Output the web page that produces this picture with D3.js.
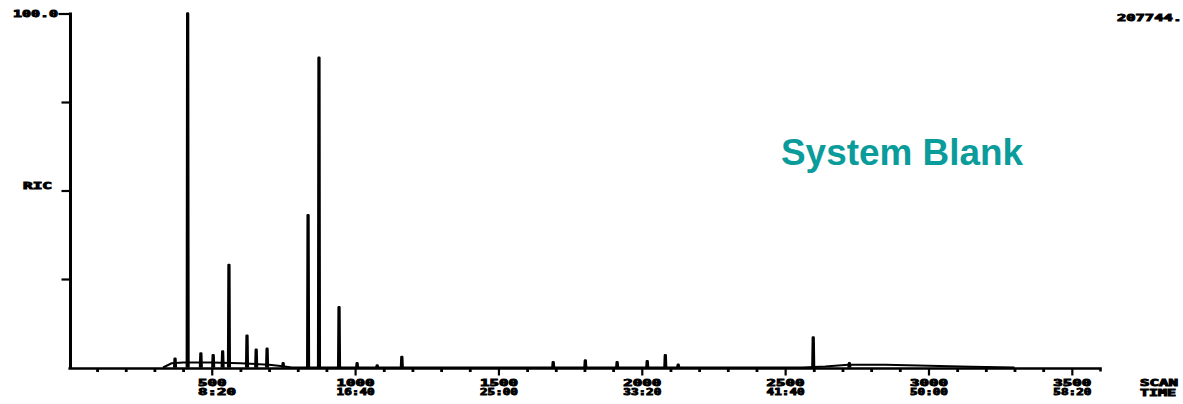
<!DOCTYPE html>
<html>
<head>
<meta charset="utf-8">
<script src="https://cdn.jsdelivr.net/npm/d3@7"></script>
<style>
  html, body { margin: 0; padding: 0; background: #fff; }
  .mono { font-family: 'DejaVu Sans Mono', monospace; font-weight: bold; font-size: 9px; fill: #000; stroke: #000; stroke-width: 0.9; }
  .title { font-family: 'Liberation Sans', Arial, sans-serif; font-weight: bold; font-size: 37px; fill: #0a9b9b; }
</style>
</head>
<body>
<svg id="chart"></svg>
<script>
// peaks of the RIC trace (scan number, % of full scale)
const peakScans   = [372, 416, 462, 505, 538, 560, 623, 655, 693, 749, 836, 874, 944, 1007, 1077, 1163, 1691, 1803, 1914, 2019, 2082, 2127, 2598, 2724];
const peakHeights = [2.5, 100, 4, 3.5, 4.5, 29, 9, 5, 5.3, 1.2, 43, 87.5, 17, 1.2, 0.6, 3, 1.5, 2, 1.5, 1.8, 3.5, 0.8, 8.5, 1.2];

// baseline drift of the trace (scan number, %)
const driftScans  = [330, 360, 400, 500, 600, 700, 740, 780, 2560, 2640, 2720, 2850, 3000, 3150, 3300];
const driftLevels = [0, 1.2, 1.4, 1.4, 1.2, 0.8, 0.4, 0, 0, 0.3, 0.8, 0.8, 0.5, 0.2, 0];

// axis labels
const majorScans  = [500, 1000, 1500, 2000, 2500, 3000, 3500];
const timeLabels  = ['8:20', '16:40', '25:00', '33:20', '41:40', '50:00', '58:20'];
const yTicks      = [25, 50, 75, 100];

const width = 1183;
const height = 404;

const svg = d3.select('#chart')
  .attr('width', width)
  .attr('height', height);

const x = d3.scaleLinear().domain([0, 3600]).range([68.4, 1100.5]);
const y = d3.scaleLinear().domain([0, 100]).range([367.5, 13.5]);

// y axis (ticks point left)
const yAxis = svg.append('g')
  .attr('transform', 'translate(70.5, 0)')
  .call(d3.axisLeft(y).tickValues(yTicks).tickSize(9).tickFormat(''));
yAxis.select('.domain').remove();
yAxis.selectAll('line').attr('stroke', '#000').attr('stroke-width', 2.2);
yAxis.select('.tick:last-of-type line').attr('x2', -12);

svg.append('line')
  .attr('x1', 70.5).attr('x2', 70.5)
  .attr('y1', y(100) - 1).attr('y2', y(0) + 1)
  .attr('stroke', '#000').attr('stroke-width', 3);

// x axis: minor ticks every 100 scans, longer ones every 500
const xAxis = svg.append('g')
  .attr('transform', `translate(0, ${ y(0) + 1 })`)
  .call(d3.axisBottom(x).tickValues(d3.range(100, 3600, 100)).tickSize(3.5).tickFormat(''));
xAxis.select('.domain').remove();
xAxis.selectAll('line').attr('stroke', '#000').attr('stroke-width', 2.8);
xAxis.selectAll('.tick')
  .filter((d) => d % 500 === 0)
  .select('line').attr('y2', 7).attr('stroke-width', 2.2);

svg.append('path')
  .attr('d', `M${ x(0) },${ y(0) + 1 } H${ x(3600) } v3`)
  .attr('fill', 'none')
  .attr('stroke', '#000')
  .attr('stroke-width', 2.6);

// trace drift
const line = d3.line()
  .x((d) => x(d[ 0 ]))
  .y((d) => y(d[ 1 ]));

svg.append('path')
  .datum(driftScans.map((s, i) => [ s, driftLevels[ i ] ]))
  .attr('d', line)
  .attr('fill', 'none')
  .attr('stroke', '#000')
  .attr('stroke-width', 2);

// peaks, drawn as narrow blunt bars like the plotter output
svg.append('g')
  .selectAll('path')
  .data(peakScans.map((s, i) => ({ scan: s, h: peakHeights[ i ] })))
  .enter().append('path')
  .attr('d', (d) => line([
    [ d.scan - 3, 0 ], [ d.scan - 1.5, d.h ], [ d.scan + 1.5, d.h ], [ d.scan + 3, 0 ]
  ]))
  .attr('fill', '#000')
  .attr('stroke', '#000')
  .attr('stroke-width', 2.4)
  .attr('stroke-linejoin', 'round');

// printer-style labels
const charW = 9.5;
function monoText(str, px, py, anchor, len) {
  svg.append('text')
    .attr('class', 'mono')
    .attr('x', px)
    .attr('y', py)
    .attr('text-anchor', anchor || 'start')
    .attr('textLength', len || str.length * charW)
    .attr('lengthAdjust', 'spacingAndGlyphs')
    .text(str);
}

majorScans.forEach((s, i) => {
  const label = String(s);
  const w = label.length * charW;
  monoText(label, x(s) - w / 2 + 0.5, 385.5);
  monoText(timeLabels[ i ], x(s) - w / 2 + 0.5, 394.5, 'start', 38);
});

monoText('SCAN', 1140, 386, 'start', 38);
monoText('TIME', 1140, 395.5, 'start', 36);
monoText('100.0', 13, 17, 'start', 45);
monoText('RIC', 23, 188.5, 'start', 29);
monoText('207744.', 1117, 20.5, 'start', 65);

svg.append('text')
  .attr('class', 'title')
  .attr('x', 781)
  .attr('y', 165)
  .attr('textLength', 242)
  .attr('lengthAdjust', 'spacingAndGlyphs')
  .text('System Blank');
</script>
</body>
</html>
